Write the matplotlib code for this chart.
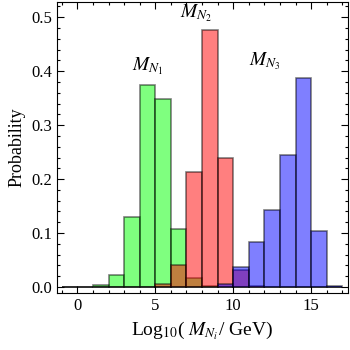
import numpy as np
from matplotlib import pyplot as plt
from matplotlib.ticker import MultipleLocator

plt.rcParams['font.family'] = ['Liberation Serif', 'DejaVu Serif']
plt.rcParams['mathtext.fontset'] = 'stix'

# bin left edges, width 1
bin_left = np.arange(-1, 17)
green_prob = [0, 0, 0.003, 0.022, 0.130, 0.375, 0.349, 0.107, 0.016, 0.001,
              0, 0, 0, 0, 0, 0, 0, 0]
red_prob = [0, 0, 0, 0, 0, 0, 0.006, 0.041, 0.213, 0.477,
            0.239, 0.031, 0.001, 0, 0, 0, 0, 0]
blue_prob = [0, 0, 0, 0, 0, 0, 0, 0, 0, 0,
             0.006, 0.037, 0.083, 0.143, 0.244, 0.388, 0.103, 0.002]

labels = ['$M_{N_1}$', '$M_{N_2}$', '$M_{N_3}$']
label_pos = [(4.5, 0.390), (7.6, 0.487), (12.0, 0.398)]

fig = plt.figure(figsize=(3.5, 3.5), dpi=100)
ax = fig.add_axes([0.163, 0.163, 0.831, 0.831])

for vals, col in [(green_prob, '#00ff00'), (red_prob, '#ff0000'), (blue_prob, '#0000ff')]:
    ax.bar(bin_left, vals, width=1, align='edge', color=col, alpha=0.5,
           edgecolor='#000000', linewidth=1.2)

for txt, (x, y) in zip(labels, label_pos):
    ax.text(x, y, txt, ha='center', va='bottom', fontsize=14)

ax.set_xlim(-1.3, 17.35)
ax.set_ylim(-0.011, 0.528)
ax.xaxis.set_major_locator(MultipleLocator(5))
ax.xaxis.set_minor_locator(MultipleLocator(1))
ax.yaxis.set_major_locator(MultipleLocator(0.1))
ax.yaxis.set_minor_locator(MultipleLocator(0.02))
ax.yaxis.set_major_formatter(plt.FormatStrFormatter('%.1f'))
ax.tick_params(which='both', direction='in', top=True, right=True, labelsize=12, width=0.8)
ax.tick_params(which='major', length=5)
ax.tick_params(which='minor', length=2.5)
for sp in ax.spines.values():
    sp.set_linewidth(0.8)

ax.set_xlabel('Log$_{10}$( $M_{N_i}$/ GeV)', fontsize=14)
ax.set_ylabel('Probability', fontsize=13)

fig.savefig('out.png', dpi=100)
